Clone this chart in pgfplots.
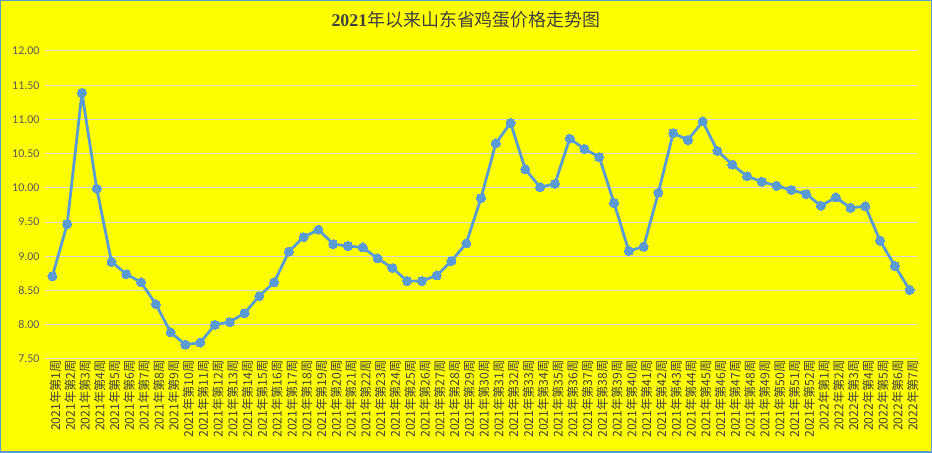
\documentclass[border=0pt]{standalone}
\usepackage{pgfplots}
\pgfplotsset{compat=1.18}
\usepackage{pgfplotstable}
\usepackage{fontspec}
\setmainfont{Carlito}
\newfontfamily\cjk{Noto Sans CJK SC}
\newfontfamily\titleserif{Liberation Serif}
\definecolor{bgyellow}{HTML}{FFFF00}
\definecolor{lineblue}{HTML}{5B9BD5}
\definecolor{gridgray}{HTML}{D9D9D9}
\definecolor{txtgray}{HTML}{595959}
\definecolor{titlegray}{HTML}{404040}
\definecolor{bordblue}{HTML}{5B9BD5}

\pgfplotstableread{
x y
1 8.71
2 9.47
3 11.39
4 9.99
5 8.92
6 8.74
7 8.62
8 8.30
9 7.89
10 7.71
11 7.74
12 8.00
13 8.04
14 8.17
15 8.42
16 8.62
17 9.07
18 9.28
19 9.39
20 9.18
21 9.15
22 9.13
23 8.97
24 8.83
25 8.64
26 8.64
27 8.72
28 8.93
29 9.19
30 9.85
31 10.65
32 10.95
33 10.27
34 10.01
35 10.06
36 10.72
37 10.57
38 10.45
39 9.78
40 9.08
41 9.14
42 9.93
43 10.80
44 10.70
45 10.97
46 10.54
47 10.34
48 10.17
49 10.09
50 10.03
51 9.97
52 9.91
53 9.74
54 9.86
55 9.71
56 9.73
57 9.23
58 8.86
59 8.51
}\eggdata

\begin{document}
\begin{tikzpicture}[x=1bp,y=1bp]
\fill[bgyellow] (0,0) rectangle (932,453);
\draw[bordblue,line width=1.5bp] (0.75,0.75) rectangle (931.25,452.25);
\useasboundingbox (0,0) rectangle (932,453);
\node[text=titlegray] at (466,433) {\fontsize{18}{21}\selectfont{\titleserif\bfseries 2021}{\cjk 年以来山东省鸡蛋价格走势图}};
\begin{axis}[
  at={(45bp,94bp)}, anchor=south west,
  scale only axis, width=872bp, height=308bp,
  xmin=0.5, xmax=59.5, ymin=7.5, ymax=12,
  ytick={7.5,8,8.5,9,9.5,10,10.5,11,11.5,12},
  xtick={1,...,59},
  xticklabels={2021年第1周,2021年第2周,2021年第3周,2021年第4周,2021年第5周,2021年第6周,2021年第7周,2021年第8周,2021年第9周,2021年第10周,2021年第11周,2021年第12周,2021年第13周,2021年第14周,2021年第15周,2021年第16周,2021年第17周,2021年第18周,2021年第19周,2021年第20周,2021年第21周,2021年第22周,2021年第23周,2021年第24周,2021年第25周,2021年第26周,2021年第27周,2021年第28周,2021年第29周,2021年第30周,2021年第31周,2021年第32周,2021年第33周,2021年第34周,2021年第35周,2021年第36周,2021年第37周,2021年第38周,2021年第39周,2021年第40周,2021年第41周,2021年第42周,2021年第43周,2021年第44周,2021年第45周,2021年第46周,2021年第47周,2021年第48周,2021年第49周,2021年第50周,2021年第51周,2021年第52周,2022年第1周,2022年第2周,2022年第3周,2022年第4周,2022年第5周,2022年第6周,2022年第7周},
  x tick label style={rotate=90, anchor=east, font=\cjk\fontsize{12.3}{13}\selectfont, text=titlegray, inner sep=1bp, yshift=-3bp},
  y tick label style={font=\fontsize{12}{14}\selectfont, text=txtgray, xshift=-2bp},
  yticklabel style={/pgf/number format/fixed, /pgf/number format/fixed zerofill, /pgf/number format/precision=2, /pgf/number format/assume math mode=true},
  ymajorgrids, grid style={gridgray, line width=1bp},
  axis line style={draw=none},
  major tick length=0pt,
  clip=false,
]
\addplot[lineblue, line width=2.8bp, line join=round, mark=*, mark size=4.5bp, mark options={fill=lineblue, draw=lineblue, line width=0pt}] table[x=x,y=y] {\eggdata};
\end{axis}
\end{tikzpicture}
\end{document}
